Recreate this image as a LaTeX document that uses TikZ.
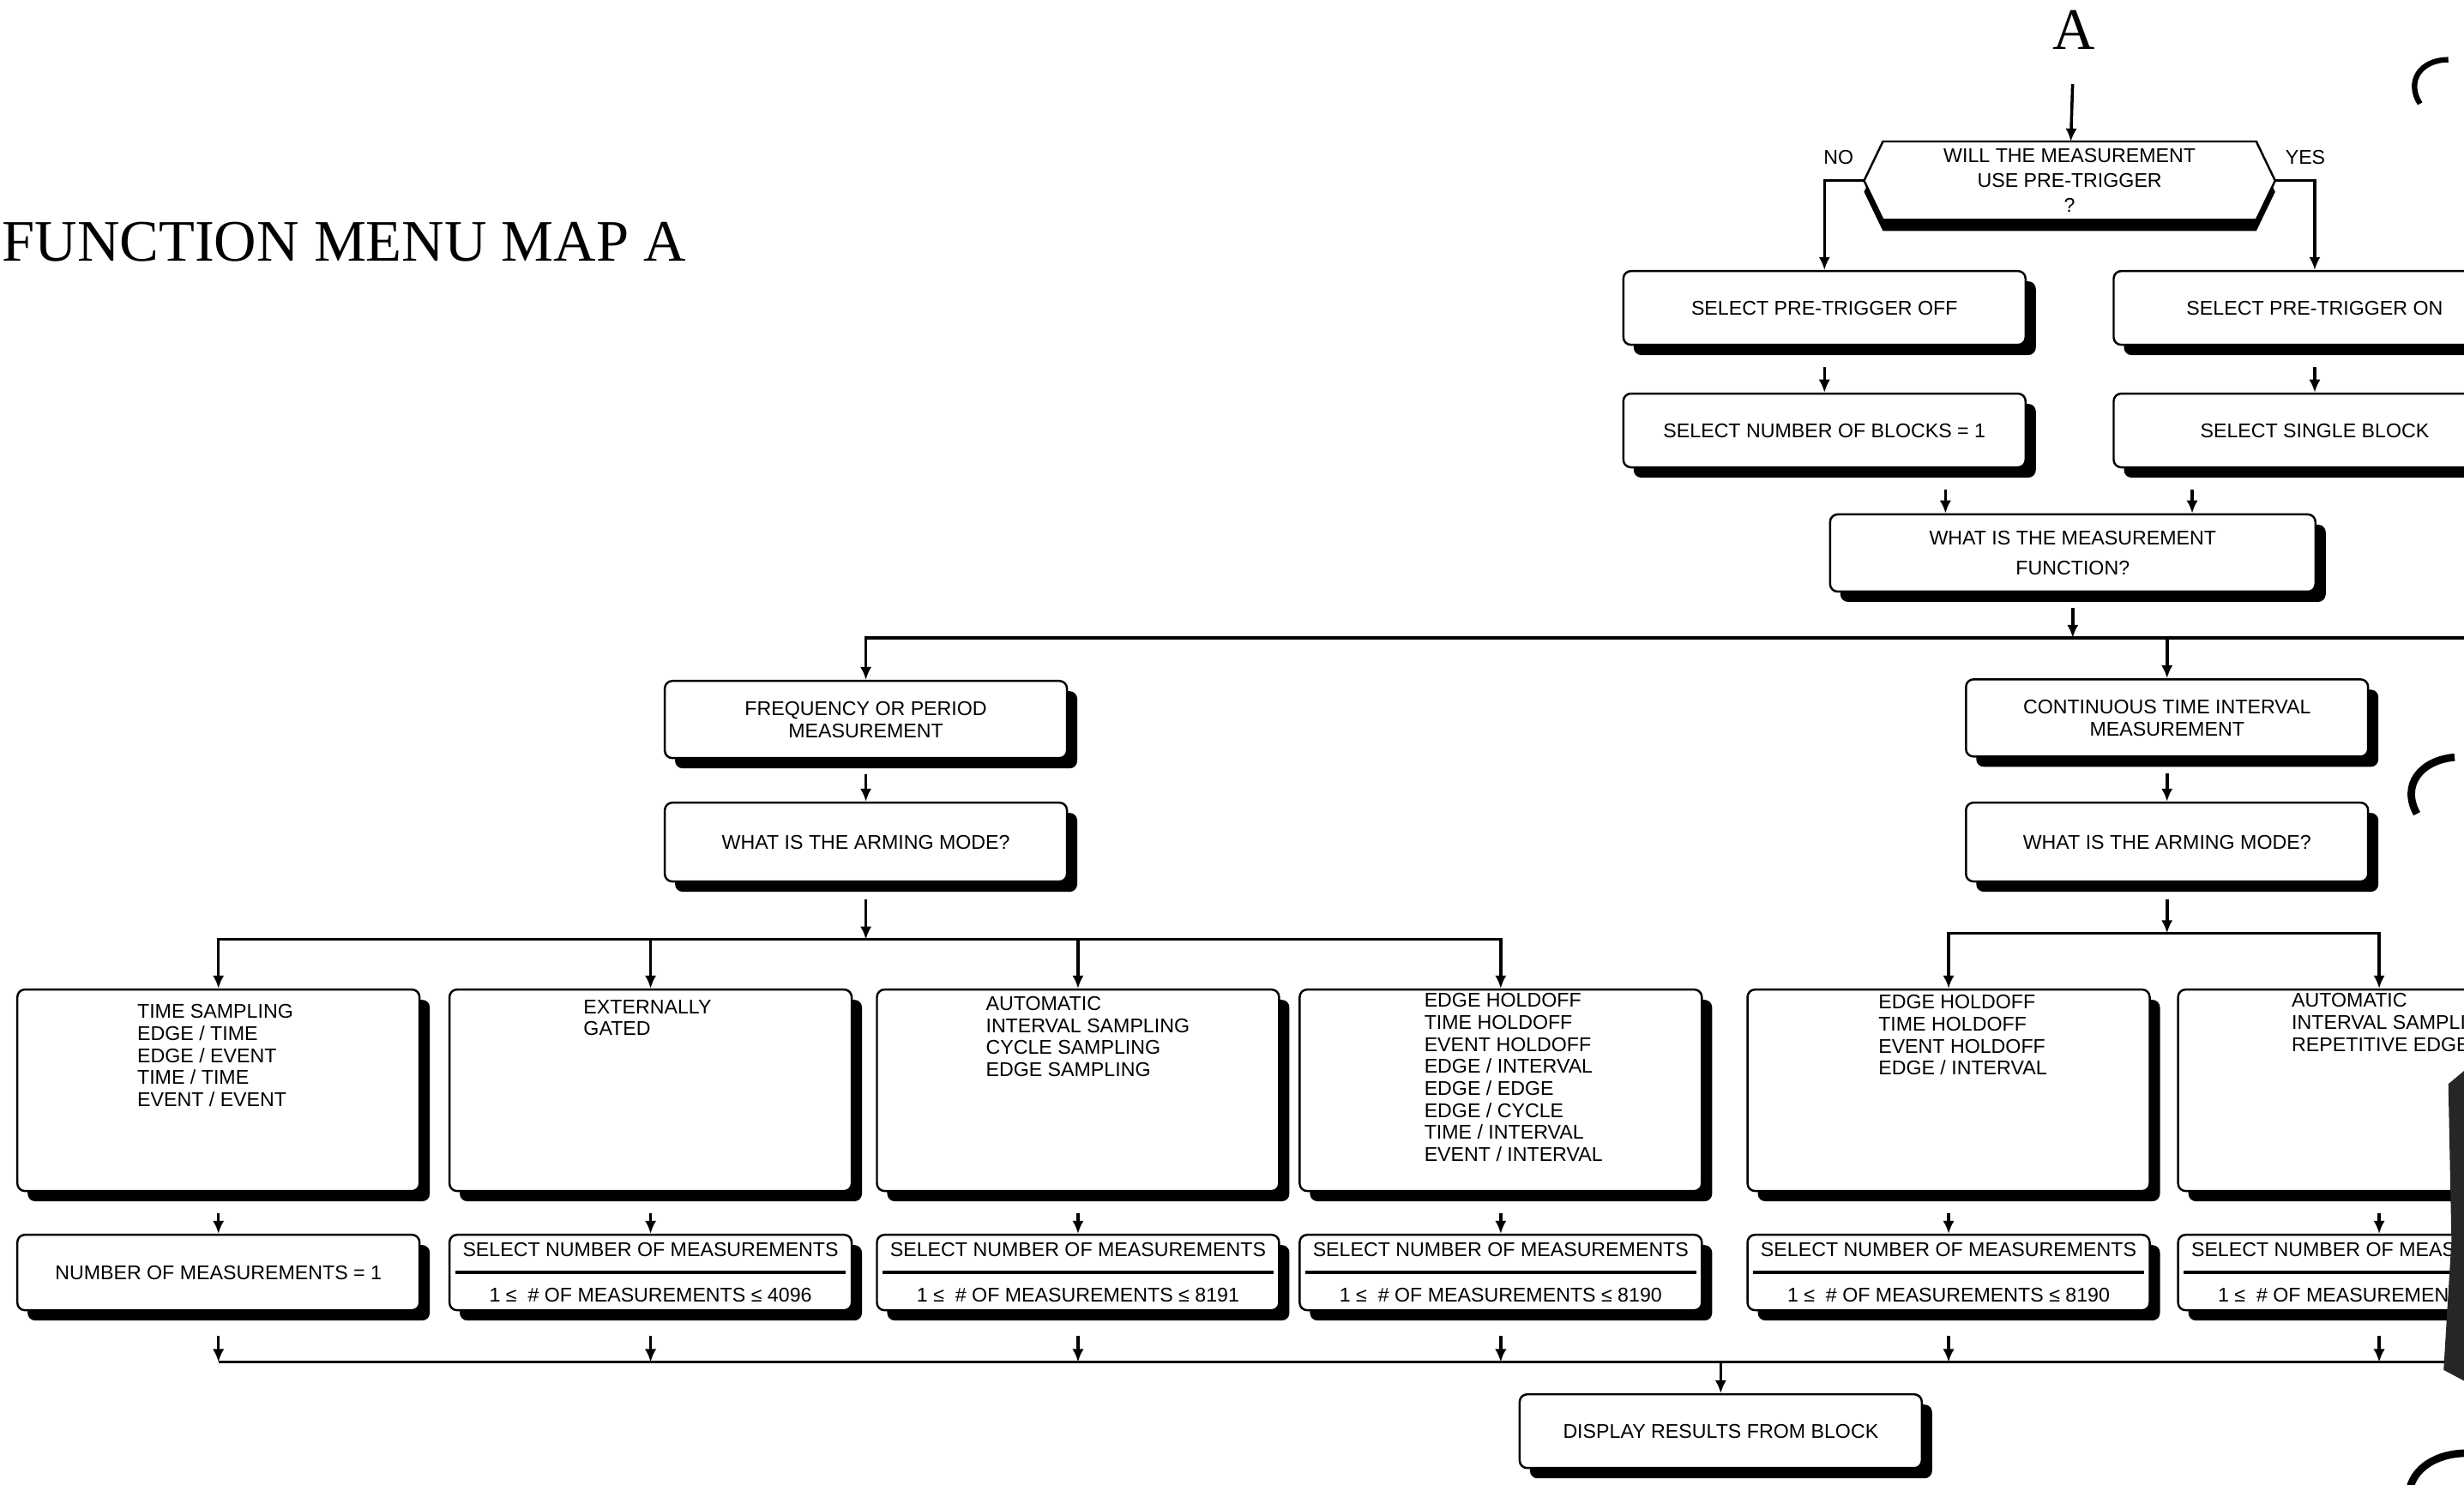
\documentclass[tikz,border=0pt]{standalone}
\usepackage{fontspec}
\setmainfont{Liberation Sans}
\newfontfamily\titlefont{Liberation Serif}
\usetikzlibrary{shadows,arrows.meta,backgrounds}
\newcommand\boxfont{\fontsize{6.6}{7.3}\selectfont}

\begin{document}
\begin{tikzpicture}[x=0.018323cm,y=-0.018323cm,
    menubox/.style={draw,line width=0.7pt,rounded corners=2.5pt,fill=white,
      minimum width=4.69cm,minimum height=0.86cm,inner sep=0pt,align=center,font=\boxfont,
      drop shadow={opacity=1,fill=black,shadow xshift=0.12cm,shadow yshift=-0.12cm}},
    armbox/.style={menubox,minimum height=2.35cm},
    cntbox/.style={menubox,minimum height=0.88cm,font=\fontsize{6.6}{15}\selectfont},
    listtxt/.style={anchor=north west,inner sep=0pt,align=left,font=\boxfont},
    bigtxt/.style={inner sep=0pt,font=\titlefont\fontsize{19.5}{23}\selectfont},
    arr/.style={-{Latex[length=4.3pt,width=3.8pt]},line width=1pt},
    garr/.style={arr,shorten <=0.25cm},
    bus/.style={line width=1pt}]
  \useasboundingbox (0,0) rectangle (1568,945);
  \clip (0,0) rectangle (1568,945);

  \node[bigtxt,anchor=west] (title) at (1,154) {FUNCTION MENU MAP A};
  \node[bigtxt] (A) at (1320,19) {A};

  \node[minimum width=4.78cm,minimum height=0.9cm,inner sep=0pt,align=center,
    font=\fontsize{6.6}{8.3}\selectfont] (q) at (1317,115) {WILL THE MEASUREMENT\\USE PRE-TRIGGER\\?};
  \begin{scope}[on background layer]
    \draw[line width=0.7pt,fill=white,drop shadow={opacity=1,fill=black,shadow xshift=0cm,shadow yshift=-0.13cm}]
      ([xshift=0.22cm]q.north west) -- ([xshift=-0.22cm]q.north east) -- (q.east)
      -- ([xshift=-0.22cm]q.south east) -- ([xshift=0.22cm]q.south west) -- (q.west) -- cycle;
  \end{scope}
  \node[font=\boxfont] (no) at (1170,100) {NO};
  \node[font=\boxfont] (yes) at (1467,100) {YES};

  \node[menubox] (off) at (1161,196) {SELECT PRE-TRIGGER OFF};
  \node[menubox] (on) at (1473,196) {SELECT PRE-TRIGGER ON};
  \node[menubox] (blk) at (1161,274) {SELECT NUMBER OF BLOCKS = 1};
  \node[menubox] (sgl) at (1473,274) {SELECT SINGLE BLOCK};
  \node[menubox,minimum width=5.66cm,minimum height=0.9cm,font=\fontsize{6.6}{9.9}\selectfont]
    (fn) at (1319,352) {WHAT IS THE MEASUREMENT\\FUNCTION?};

  \node[menubox,minimum height=0.9cm] (freq) at (551,458) {FREQUENCY OR PERIOD\\MEASUREMENT};
  \node[menubox,minimum height=0.92cm] (modef) at (551,536) {WHAT IS THE ARMING MODE?};
  \node[menubox,minimum height=0.9cm] (cont) at (1379,457) {CONTINUOUS TIME INTERVAL\\MEASUREMENT};
  \node[menubox,minimum height=0.92cm] (modec) at (1379,536) {WHAT IS THE ARMING MODE?};

  \foreach \n/\x in {1/139,2/414,3/686,4/955,5/1240,6/1514}
    \node[armbox] (a\n) at (\x,694) {};
  \node[listtxt] (t1) at (87,639) {TIME SAMPLING\\EDGE / TIME\\EDGE / EVENT\\TIME / TIME\\EVENT / EVENT};
  \node[listtxt] (t2) at (371,636) {EXTERNALLY\\GATED};
  \node[listtxt] (t3) at (627,634) {AUTOMATIC\\INTERVAL SAMPLING\\CYCLE SAMPLING\\EDGE SAMPLING};
  \node[listtxt] (t4) at (906,632) {EDGE HOLDOFF\\TIME HOLDOFF\\EVENT HOLDOFF\\EDGE / INTERVAL\\EDGE / EDGE\\EDGE / CYCLE\\TIME / INTERVAL\\EVENT / INTERVAL};
  \node[listtxt] (t5) at (1195,633) {EDGE HOLDOFF\\TIME HOLDOFF\\EVENT HOLDOFF\\EDGE / INTERVAL};
  \node[listtxt] (t6) at (1458,632) {AUTOMATIC\\INTERVAL SAMPLING\\REPETITIVE EDGE};

  \node[cntbox,font=\boxfont] (c1) at (139,810) {NUMBER OF MEASUREMENTS = 1};
  \foreach \n/\x/\m in {2/414/4096,3/686/8191,4/955/8190,5/1240/8190,6/1514/8190}
    \node[cntbox] (c\n) at (\x,810) {SELECT NUMBER OF MEASUREMENTS\\1 ≤ \ \# OF MEASUREMENTS ≤ \m};
  \foreach \n in {2,...,6}
    \draw[line width=1pt] ([xshift=0.08cm]c\n.west) -- ([xshift=-0.08cm]c\n.east);

  \node[menubox] (disp) at (1095,911) {DISPLAY RESULTS FROM BLOCK};

  \coordinate (bus1) at (1319,406);
  \coordinate (bus1e) at (1580,406);
  \coordinate (bus2) at (551,598);
  \coordinate (bus3) at (1379,594);
  \coordinate (bus4) at (1095,867);
  \coordinate (bus4e) at (1580,867);

  \draw[arr,shorten <=0.4cm] (A) -- (q);
  \draw[arr] (q.west) -| (off);
  \draw[arr] (q.east) -| (on);
  \draw[garr] (off) -- (blk);
  \draw[garr] (on) -- (sgl);
  \draw[garr] (1238,0 |- blk.south) -- (1238,0 |- fn.north);
  \draw[garr] (1395,0 |- sgl.south) -- (1395,0 |- fn.north);
  \draw[arr,shorten <=0.18cm] (fn) -- (bus1);
  \draw[arr] (bus1) -| (freq);
  \draw[arr] (bus1) -| (cont);
  \draw[bus] (bus1) -- (bus1e);
  \draw[arr,shorten <=0.18cm] (freq) -- (modef);
  \draw[arr,shorten <=0.2cm] (modef) -- (bus2);
  \draw[arr,shorten <=0.18cm] (cont) -- (modec);
  \draw[arr,shorten <=0.2cm] (modec) -- (bus3);
  \foreach \n in {1,...,4}
    \draw[arr] (bus2) -| (a\n);
  \foreach \n in {5,6}
    \draw[arr] (bus3) -| (a\n);
  \foreach \n in {1,...,6}
    \draw[garr] (a\n) -- (c\n);
  \foreach \n in {1,...,6}
    \draw[arr,shorten <=0.29cm] (c\n) -- (c\n |- bus4);
  \draw[bus] (c1 |- bus4) -- (bus4e);
  \draw[arr] (bus4) -- (disp);

  % punch holes and edge of the scan
  \draw[line width=1.8pt] (1558,38) .. controls (1540,38) and (1531,52) .. (1540,66);
  \draw[line width=2.5pt] (1562,482) .. controls (1540,484) and (1528,500) .. (1538,518);
  \draw[line width=2.5pt] (1570,925) .. controls (1550,925) and (1535,935) .. (1533,950);
  \fill[black!85] (1558,690) -- (1570,680) -- (1570,880) -- (1555,872) -- (1560,790) -- cycle;
\end{tikzpicture}
\end{document}
